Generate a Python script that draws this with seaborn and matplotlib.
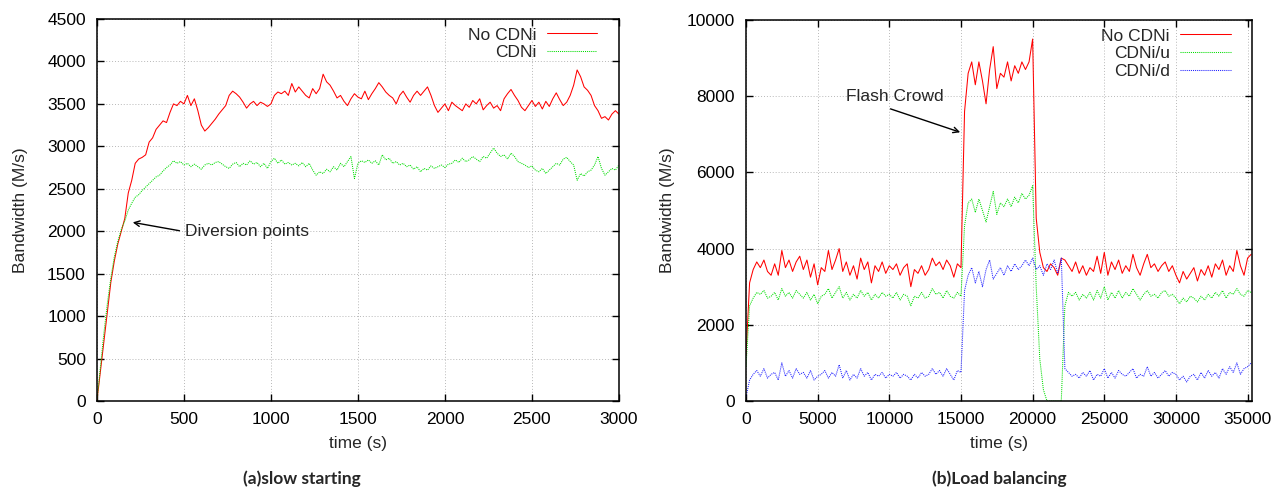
import numpy as np
import pandas as pd
import matplotlib
matplotlib.use("Agg")
import matplotlib.pyplot as plt
import seaborn as sns

# (a) slow starting, sampled every 20 s
slow_step = 20
slow_no_cdni = [
    0, 350, 700, 1050, 1400, 1650, 1850, 2000, 2150, 2450,
    2600, 2800, 2850, 2870, 2900, 3050, 3100, 3200, 3250, 3300,
    3280, 3400, 3500, 3480, 3530, 3500, 3600, 3480, 3560, 3420,
    3250, 3180, 3220, 3270, 3320, 3380, 3430, 3480, 3600, 3650,
    3620, 3580, 3520, 3450, 3500, 3530, 3480, 3520, 3500, 3470,
    3500, 3600, 3640, 3620, 3650, 3600, 3740, 3640, 3700, 3650,
    3600, 3570, 3680, 3620, 3680, 3850, 3760, 3720, 3650, 3570,
    3600, 3530, 3480, 3560, 3620, 3580, 3560, 3650, 3550, 3620,
    3680, 3750, 3700, 3640, 3600, 3570, 3500, 3600, 3650, 3580,
    3520, 3600, 3650, 3600, 3650, 3700, 3600, 3480, 3400, 3450,
    3500, 3420, 3520, 3480, 3450, 3420, 3500, 3460, 3540, 3500,
    3560, 3430, 3480, 3520, 3450, 3480, 3420, 3560, 3620, 3670,
    3600, 3540, 3460, 3420, 3480, 3540, 3470, 3520, 3440, 3530,
    3470, 3560, 3630, 3550, 3480, 3520, 3600, 3720, 3900, 3820,
    3700, 3660, 3600, 3480, 3420, 3330, 3350, 3310, 3380, 3420,
    3380,
]
slow_cdni = [
    0, 400, 800, 1150, 1450, 1700, 1880, 2020, 2120, 2250,
    2330, 2400, 2430, 2480, 2520, 2560, 2600, 2640, 2660, 2710,
    2750, 2780, 2830, 2800, 2820, 2780, 2800, 2760, 2790, 2760,
    2730, 2780, 2800, 2780, 2810, 2820, 2790, 2760, 2740, 2790,
    2810, 2760, 2800, 2780, 2830, 2790, 2810, 2760, 2800, 2740,
    2820, 2860, 2800, 2840, 2790, 2810, 2780, 2800, 2770, 2810,
    2760, 2800, 2720, 2660, 2700, 2680, 2730, 2700, 2760, 2720,
    2800, 2760, 2820, 2880, 2620, 2800, 2830, 2810, 2840, 2800,
    2830, 2780, 2900, 2840, 2860, 2800, 2820, 2780, 2800, 2760,
    2780, 2730, 2760, 2700, 2740, 2720, 2770, 2740, 2760, 2780,
    2750, 2790, 2800, 2840, 2810, 2860, 2820, 2840, 2880, 2850,
    2820, 2880, 2860, 2920, 2980, 2920, 2880, 2900, 2850, 2920,
    2880, 2820, 2800, 2780, 2750, 2770, 2720, 2700, 2740, 2680,
    2720, 2760, 2800, 2780, 2850, 2870, 2820, 2780, 2600, 2680,
    2650, 2700, 2720, 2780, 2880, 2740, 2660, 2700, 2740, 2720,
    2780,
]

# (b) load balancing, sampled every 250 s
lb_step = 250
lb_no_cdni = [
    1200, 3100, 3450, 3650, 3500, 3700, 3400, 3300, 3600, 3300,
    3950, 3500, 3700, 3400, 3650, 3800, 3450, 3700, 3250, 3600,
    3050, 3500, 3400, 3950, 3450, 3700, 4000, 3400, 3650, 3300,
    3550, 3200, 3750, 3450, 3650, 3100, 3550, 3400, 3650, 3350,
    3550, 3450, 3600, 3300, 3500, 3600, 3000, 3450, 3350, 3550,
    3300, 3450, 3750, 3550, 3650, 3450, 3700, 3550, 3250, 3600,
    3500, 7600, 8600, 8900, 8300, 8900, 8400, 7800, 8700, 9300,
    8200, 8600, 8500, 8900, 8400, 8800, 8600, 8900, 8700, 8900,
    9500, 4800, 3900, 3500, 3400, 3600, 3500, 3300, 3750, 3700,
    3550, 3400, 3650, 3350, 3550, 3300, 3500, 3400, 3800, 3350,
    3900, 3300, 3650, 3450, 3700, 3350, 3550, 3400, 3850, 3500,
    3300, 3600, 3850, 3500, 3600, 3400, 3550, 3650, 3400, 3550,
    3300, 3100, 3400, 3200, 3350, 3500, 3150, 3450, 3300, 3550,
    3250, 3600, 3450, 3700, 3300, 3550, 3400, 3950, 3550, 3300,
    3750, 3850,
]
lb_cdni_u = [
    900, 2500, 2700, 2850, 2800, 2900, 2700, 2750, 2850, 2650,
    2950, 2750, 2850, 2700, 2900, 2800, 2700, 2850, 2650, 2800,
    2550, 2750, 2800, 2950, 2700, 2850, 3000, 2700, 2850, 2650,
    2800, 2700, 2900, 2750, 2850, 2650, 2800, 2700, 2850, 2750,
    2800, 2700, 2850, 2650, 2800, 2750, 2500, 2750, 2700, 2850,
    2700, 2750, 2950, 2800, 2850, 2700, 2900, 2750, 2700, 2850,
    2750, 4600, 5200, 5300, 4950, 5300, 5000, 4700, 5100, 5500,
    4900, 5200, 5100, 5300, 5100, 5350, 5200, 5450, 5300, 5400,
    5650, 3000, 1100, 300, 0, 0, 0, 0, 0, 2500,
    2850, 2750, 2850, 2650, 2800, 2700, 2850, 2650, 2900, 2700,
    3000, 2650, 2850, 2700, 2900, 2700, 2850, 2750, 2950, 2800,
    2650, 2800, 2900, 2750, 2800, 2700, 2850, 2900, 2750, 2800,
    2700, 2550, 2700, 2600, 2750, 2700, 2600, 2750, 2650, 2800,
    2700, 2850, 2750, 2900, 2700, 2850, 2800, 2950, 2800, 2750,
    2900, 2850,
]
lb_cdni_d = [
    100, 550, 700, 800, 650, 850, 600, 700, 750, 550,
    1000, 650, 800, 600, 850, 700, 750, 600, 800, 550,
    650, 700, 800, 600, 750, 650, 950, 600, 800, 550,
    700, 600, 850, 650, 750, 550, 700, 650, 750, 600,
    700, 650, 750, 600, 700, 650, 550, 700, 600, 750,
    650, 700, 850, 700, 800, 650, 850, 700, 550, 800,
    750, 2900, 3300, 3500, 3100, 3400, 3000, 3450, 3700, 3200,
    3350, 3500, 3300, 3550, 3400, 3600, 3450, 3550, 3700, 3550,
    3750, 3450, 3550, 3300, 3600, 3450, 3700, 3350, 3750, 850,
    750, 650, 700, 600, 750, 650, 800, 550, 700, 650,
    850, 600, 750, 600, 800, 700, 650, 750, 850, 600,
    700, 650, 900, 650, 750, 600, 700, 800, 650, 750,
    700, 550, 650, 500, 650, 700, 550, 750, 600, 800,
    650, 750, 600, 850, 700, 900, 750, 1000, 700, 850,
    900, 1000,
]

slow_df = pd.DataFrame({"time": np.arange(len(slow_no_cdni)) * slow_step,
                        "No CDNi": slow_no_cdni, "CDNi": slow_cdni})
lb_df = pd.DataFrame({"time": np.arange(len(lb_no_cdni)) * lb_step,
                      "No CDNi": lb_no_cdni, "CDNi/u": lb_cdni_u, "CDNi/d": lb_cdni_d})

sns.set_style("ticks")
plt.rcParams["font.family"] = ["Liberation Sans", "DejaVu Sans"]

fig = plt.figure(figsize=(12.84, 4.91), dpi=100)
ax1 = fig.add_axes([0.0755, 0.1833, 0.4065, 0.778])
ax2 = fig.add_axes([0.581, 0.1833, 0.394, 0.776])

dotted = (0, (1, 1))
red, green, blue = "#ff0000", "#00dd00", "#2020ff"
lw = 0.75

sns.lineplot(data=slow_df, x="time", y="No CDNi", ax=ax1, color=red, lw=lw,
             label="No CDNi", estimator=None)
sns.lineplot(data=slow_df, x="time", y="CDNi", ax=ax1, color=green, lw=lw,
             linestyle=dotted, label="CDNi", estimator=None)

sns.lineplot(data=lb_df, x="time", y="No CDNi", ax=ax2, color=red, lw=lw,
             label="No CDNi", estimator=None)
sns.lineplot(data=lb_df, x="time", y="CDNi/u", ax=ax2, color=green, lw=lw,
             linestyle=dotted, label="CDNi/u", estimator=None)
sns.lineplot(data=lb_df, x="time", y="CDNi/d", ax=ax2, color=blue, lw=lw,
             linestyle=dotted, label="CDNi/d", estimator=None)

fs = 12.5
for ax, xmax, ymax, xstep, ystep in [(ax1, 3000, 4500, 500, 500),
                                     (ax2, 35300, 10000, 5000, 2000)]:
    ax.set_xlim(0, xmax)
    ax.set_ylim(0, ymax)
    ax.set_xticks(np.arange(0, xmax + 1, xstep))
    ax.set_yticks(np.arange(0, ymax + 1, ystep))
    ax.grid(True, color="#b8b8b8", linestyle=(0, (1, 2)), linewidth=0.7)
    ax.tick_params(direction="in", top=True, right=True, length=5, width=1,
                   labelsize=fs, pad=8, colors="black")
    for s in ax.spines.values():
        s.set_visible(True)
        s.set_color("black")
        s.set_linewidth(1.1)
    ax.set_xlabel("time (s)", fontsize=fs)
    ax.set_ylabel("Bandwidth (M/s)", fontsize=fs)
    ax.xaxis.set_label_coords(0.5, -0.092)
    leg = ax.legend(loc="upper right", bbox_to_anchor=(0.958, 0.978), frameon=False,
                    markerfirst=False, fontsize=fs, handlelength=2.9,
                    handletextpad=0.6, labelspacing=0.15, borderpad=0, borderaxespad=0)

ax1.yaxis.set_label_coords(-0.133, 0.5)
ax2.yaxis.set_label_coords(-0.14, 0.5)

ax1.annotate("", xy=(190, 2110), xytext=(490, 2000),
             arrowprops=dict(arrowstyle="->", color="black", lw=1))
ax1.text(505, 2000, "Diversion points", fontsize=fs, ha="left", va="center")

ax2.annotate("", xy=(15130, 7030), xytext=(9900, 7690),
             arrowprops=dict(arrowstyle="->", color="black", lw=1))
ax2.text(7000, 8000, "Flash Crowd", fontsize=fs, ha="left", va="center")

fig.text(0.2350, 0.026, "(a)slow starting", fontsize=12.5, fontweight="bold",
         family=["Lato", "DejaVu Sans"], ha="center", va="center")
fig.text(0.7780, 0.026, "(b)Load balancing", fontsize=12.5, fontweight="bold",
         family=["Lato", "DejaVu Sans"], ha="center", va="center")

fig.savefig("out.png", dpi=100)
